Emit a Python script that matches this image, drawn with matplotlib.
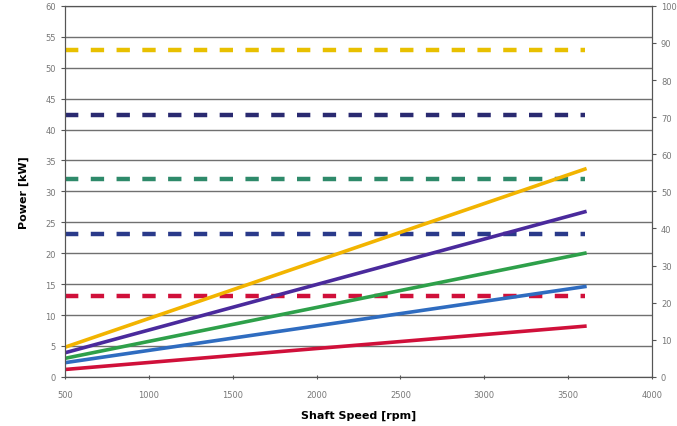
import matplotlib.pyplot as plt
import numpy as np

# shaft speed range of the curves [rpm]
speed = [500, 3600]

# power curves [kW], read at 500 and 3600 rpm
power_yellow = [4.8, 33.6]
power_purple = [3.9, 26.7]
power_green = [3.0, 20.0]
power_blue = [2.3, 14.6]
power_red = [1.2, 8.2]

# torque levels (right axis)
torque_levels = [88.2, 70.7, 53.2, 38.5, 21.8]

solid_colors = ['#F2B400', '#4A2A9C', '#2EA04A', '#2F6CC0', '#D0103A']
dash_colors = ['#E8C000', '#2A2A70', '#2E8A6A', '#2A3A8A', '#D0103A']

fig = plt.figure(figsize=(6.77, 4.27), dpi=100)
ax = fig.add_axes([0.096, 0.115, 0.867, 0.869])
ax2 = ax.twinx()

for i, tq in enumerate(torque_levels):
  ax2.plot(speed, [tq, tq], color=dash_colors[i], lw=3.2, dashes=(3.0, 2.8),
           solid_capstyle='butt', dash_capstyle='butt')

powers = [power_yellow, power_purple, power_green, power_blue, power_red]
for i, p in enumerate(powers):
  ax.plot(speed, p, color=solid_colors[i], lw=2.6)

ax.set_zorder(ax2.get_zorder() + 1)
ax.patch.set_visible(False)

ax.set_xlim(500, 4000)
ax.set_ylim(0, 60)
ax2.set_ylim(0, 100)
ax.set_xticks(np.arange(500, 4001, 500))
ax.set_yticks(np.arange(0, 61, 5))
ax2.set_yticks(np.arange(0, 101, 10))
ax.grid(axis='y', color='#707070', lw=1)
ax.set_axisbelow(True)

for a in (ax, ax2):
  a.tick_params(labelsize=6, labelcolor='#777777', length=3, width=0.8, color='#555555')
  for s in a.spines.values():
    s.set_color('#555555')
ax.tick_params(axis='x', direction='inout', pad=8)

ax.set_xlabel('Shaft Speed [rpm]', fontsize=8, fontweight='bold', labelpad=8)
ax.set_ylabel('Power [kW]', fontsize=8, fontweight='bold', labelpad=12)

fig.savefig('out.png', dpi=100)
